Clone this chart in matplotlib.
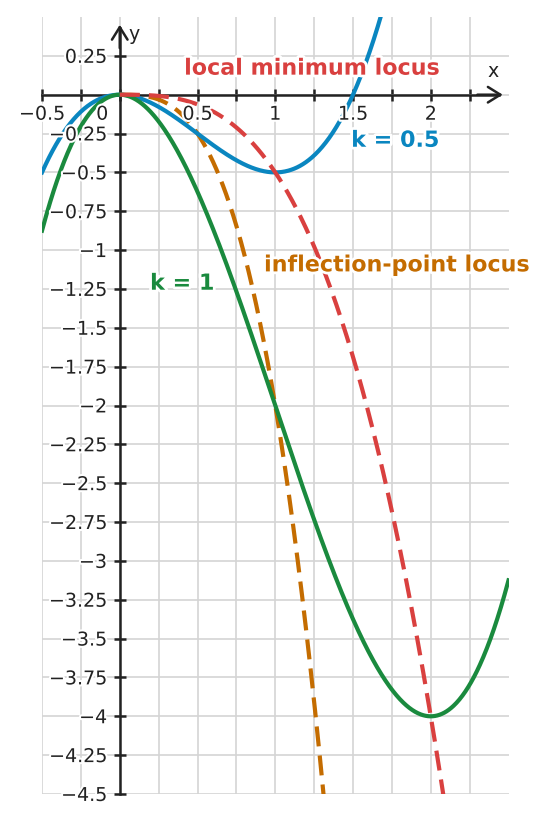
import numpy as np
import matplotlib
matplotlib.use("Agg")
import matplotlib.pyplot as plt
import matplotlib.patheffects as pe

# ---- data ----
k_values = [0.5, 1.0]                 # parameters of f_k(x) = x^3 - 3k x^2
k_labels = ["k = 0.5", "k = 1"]
x_range = [-0.5, 2.5]
xtick_vals = [-0.5, 0, 0.5, 1, 1.5, 2]
xtick_labels = ["\u22120.5", "0", "0.5", "1", "1.5", "2"]
ytick_vals = [0.25, -0.25, -0.5, -0.75, -1, -1.25, -1.5, -1.75, -2, -2.25, -2.5,
              -2.75, -3, -3.25, -3.5, -3.75, -4, -4.25, -4.5]
ytick_labels = ["0.25", "\u22120.25", "\u22120.5", "\u22120.75", "\u22121", "\u22121.25",
                "\u22121.5", "\u22121.75", "\u22122", "\u22122.25", "\u22122.5", "\u22122.75",
                "\u22123", "\u22123.25", "\u22123.5", "\u22123.75", "\u22124", "\u22124.25",
                "\u22124.5"]
locus_names = ["local minimum locus", "inflection-point locus"]

BLUE = "#0a86c0"
GREEN = "#1a8a3e"
RED = "#d9403f"
ORANGE = "#c46c00"
AXC = "#222222"

fig = plt.figure(figsize=(5.56, 8.23), dpi=100)
ax = fig.add_axes([42 / 556, 1 - 794 / 823, 466.5 / 556, 777 / 823])
ax.set_xlim(-0.5, 2.5)
ax.set_ylim(-4.5, 0.5)

# grid + ticks
ax.set_xticks(np.arange(-0.5, 2.5, 0.25))
ax.set_yticks(np.arange(-4.5, 0.5, 0.25))
ax.grid(True, color="#d4d4d4", lw=1.2, zorder=0)
ax.set_axisbelow(True)
ax.tick_params(direction="inout", length=8.6, width=1.8, color=AXC,
               labelbottom=False, labelleft=False)
for s in ["top", "right"]:
    ax.spines[s].set_visible(False)
ax.spines["bottom"].set_position(("data", 0))
ax.spines["left"].set_position(("data", 0))
ax.spines["bottom"].set_bounds(-0.5, 2.44)
ax.spines["left"].set_bounds(-4.5, 0.43)
for s in ["bottom", "left"]:
    ax.spines[s].set_linewidth(1.8)
    ax.spines[s].set_color(AXC)
    ax.spines[s].set_zorder(2)

arrow_kw = dict(arrowstyle="->,head_length=0.45,head_width=0.28", lw=1.8, color=AXC,
                shrinkA=0, shrinkB=0, mutation_scale=20)
ax.annotate("", xy=(2.463, 0), xytext=(2.3, 0), arrowprops=arrow_kw, zorder=2)
ax.annotate("", xy=(0, 0.45), xytext=(0, 0.3), arrowprops=arrow_kw, zorder=2)

# curves
x = np.linspace(x_range[0], x_range[1], 800)
k = k_values
DASH = (0, (4.8, 2.2))
# inflection point locus (x=k, y=-2k^3)
xi = np.linspace(0, 1.4, 400)
ax.plot(xi, -2 * xi ** 3, color=ORANGE, lw=3.0, ls=DASH, zorder=3)
ax.plot(x, x ** 3 - 3 * k[0] * x ** 2, color=BLUE, lw=3.0, zorder=4)
ax.plot(x, x ** 3 - 3 * k[1] * x ** 2, color=GREEN, lw=3.0, zorder=5)
# local minimum locus (x=2k, y=-4k^3)
xm = np.linspace(0, 2.2, 400)
ax.plot(xm, -xm ** 3 / 2, color=RED, lw=3.0, ls=DASH, zorder=6)

halo = [pe.withStroke(linewidth=3, foreground="white")]
FS = 13.7
for v, lbl in zip(xtick_vals, xtick_labels):
    dx = -12.6 if v == 0 else 0
    ax.annotate(lbl, (v, 0), xytext=(dx, -18), textcoords="offset points",
                ha="center", va="baseline", fontsize=FS, color=AXC,
                path_effects=halo, zorder=8)
for v, lbl in zip(ytick_vals, ytick_labels):
    ax.annotate(lbl, (0, v), xytext=(-9.2, -5), textcoords="offset points",
                ha="right", va="baseline", fontsize=FS, color=AXC,
                path_effects=halo, zorder=8)

ax.text(2.399, 0.113, "x", ha="center", va="baseline", fontsize=FS, color=AXC, zorder=8)
ax.text(0.09, 0.354, "y", ha="center", va="baseline", fontsize=FS, color=AXC, zorder=8)

halo2 = [pe.withStroke(linewidth=4, foreground="white")]
ax.text(1.239, 0.129, locus_names[0], ha="center", va="baseline", fontsize=16,
        fontweight="bold", color=RED, path_effects=halo2, zorder=9)
ax.text(1.772, -0.335, k_labels[0], ha="center", va="baseline", fontsize=16,
        fontweight="bold", color=BLUE, path_effects=halo2, zorder=9)
ax.text(1.785, -1.137, locus_names[1], ha="center", va="baseline", fontsize=16,
        fontweight="bold", color=ORANGE, path_effects=halo2, zorder=9)
ax.text(0.402, -1.255, k_labels[1], ha="center", va="baseline", fontsize=16,
        fontweight="bold", color=GREEN, path_effects=halo2, zorder=9)

fig.savefig("out.png", dpi=100)
